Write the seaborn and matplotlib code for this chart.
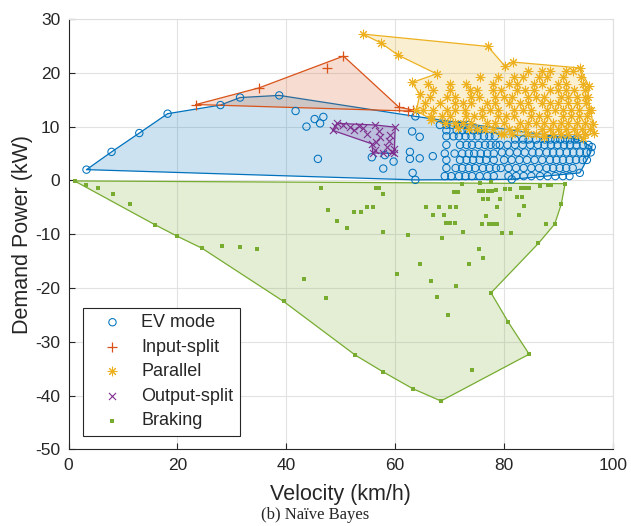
import matplotlib
matplotlib.use("Agg")
import matplotlib.pyplot as plt
import seaborn as sns
import numpy as np

# ---------------- data ----------------
# EV mode
ev_hull_x = [3.3, 7.9, 13.0, 18.2, 27.9, 31.5, 38.7, 63.7, 93.6, 96.1, 95.9, 95.2, 93.9, 81.4, 63.7]
ev_hull_y = [2.0, 5.3, 8.8, 12.4, 14.0, 15.4, 15.8, 11.9, 7.6, 6.2, 5.2, 3.8, 1.4, 0.2, 0.1]
ev_other_x = [41.7, 43.7, 45.2, 46.2, 46.8, 45.8, 63.1, 64.5, 62.7, 62.7, 64.5, 66.9, 63.2, 57.8, 55.7, 58.1, 59.7]
ev_other_y = [12.9, 10.0, 11.4, 10.6, 11.8, 4.0, 9.1, 8.1, 5.3, 4.0, 4.1, 4.5, 1.4, 2.2, 4.3, 4.7, 3.5]
ev_row_y = [10.3, 9.3, 8.2, 6.6, 5.0, 3.8, 2.3, 0.8,
            7.6, 6.6, 5.2, 3.8, 2.3, 0.8]
ev_row_x = [
    [68.2, 69.4, 70.5, 71.5, 72.5, 73.5],
    [69.4, 71.3, 72.3, 73.3, 74.3, 75.3],
    [69.4, 70.7, 71.7, 72.9, 74.0, 75.1, 76.3, 77.3, 78.3],
    [69.4, 71.9, 73.1, 74.1, 75.3, 76.5, 77.5, 78.5],
    [69.1, 70.9, 72.3, 73.5, 74.5, 75.7, 76.9, 78.1],
    [69.4, 71.9, 73.1, 74.3, 75.5, 76.7, 78.1],
    [69.4, 71.1, 72.3, 73.5, 74.7, 76.1, 77.3, 78.5],
    [69.1, 70.3, 71.7, 72.9, 74.1, 75.5, 76.9, 78.1],
    [82.0, 83.5, 84.5, 85.9, 87.5, 88.5, 89.4, 90.3, 91.2, 92.1, 93.0],
    [79.2, 80.6, 82.0, 83.4, 84.8, 86.2, 87.4, 88.6, 89.8, 91.0, 92.1, 93.3, 94.5, 95.5],
    [79.6, 81.0, 82.4, 83.8, 85.2, 86.4, 87.8, 89.0, 90.2, 91.5, 92.7, 93.9, 95.1],
    [80.0, 81.4, 82.8, 84.2, 85.6, 87.0, 88.4, 89.6, 90.8, 92.0, 93.2, 94.4],
    [79.4, 80.8, 82.2, 83.6, 85.0, 86.4, 87.8, 89.0, 90.2, 91.4, 92.6],
    [80.8, 82.2, 83.6, 85.0, 86.6, 88.0, 89.4, 90.8, 92.0],
]

# Input-split
in_hull_x = [23.4, 35.0, 50.5, 60.7, 63.2, 62.3]
in_hull_y = [14.1, 17.2, 23.1, 13.6, 13.1, 12.9]
in_other_x = [47.4]
in_other_y = [20.8]

# Parallel
par_hull_x = [54.0, 77.0, 80.1, 81.6, 93.9, 95.6, 95.4, 95.9, 96.3, 96.5, 94.5, 87.4, 79.4, 71.5,
              66.6, 63.9, 64.5, 63.1, 67.6, 60.5, 57.3]
par_hull_y = [27.2, 24.9, 21.3, 22.0, 20.9, 17.5, 15.5, 13.0, 10.5, 8.9, 7.8, 8.0, 8.6, 9.8,
              11.3, 13.0, 16.0, 18.2, 19.8, 23.3, 25.6]
par_row_y = [20.3, 19.2, 18.0, 16.8, 15.5, 14.3, 13.1, 11.9, 10.7, 9.5, 8.7]
par_row_x = [
    [84.4, 86.9, 88.4, 91.4, 92.6],
    [75.6, 78.9, 81.9, 83.4, 86.4, 87.9, 90.9, 94.1],
    [66.0, 70.0, 73.0, 77.9, 80.9, 82.4, 85.4, 86.9, 89.9, 91.4, 94.4],
    [67.0, 70.0, 73.8, 75.0, 77.9, 79.4, 82.4, 83.9, 85.4, 88.4, 89.9, 91.4, 92.9, 94.8],
    [66.4, 69.5, 71.0, 74.0, 75.4, 78.4, 79.9, 81.4, 84.4, 85.9, 87.4, 90.4, 91.8, 93.3, 94.8],
    [65.4, 68.2, 71.0, 72.5, 74.0, 76.9, 78.4, 80.9, 82.9, 84.4, 86.9, 88.4, 89.9, 91.8, 93.3, 95.1],
    [65.1, 67.0, 69.5, 71.0, 72.8, 75.9, 77.4, 78.9, 81.9, 83.4, 84.9, 87.9, 89.4, 90.9, 92.3, 93.8, 95.6],
    [66.5, 68.5, 70.0, 73.0, 74.5, 75.9, 78.9, 80.4, 81.9, 84.9, 86.4, 87.9, 90.9, 92.3, 93.8, 95.3],
    [69.1, 71.0, 72.5, 74.0, 76.9, 78.4, 79.9, 82.9, 84.4, 85.9, 87.4, 88.9, 90.4, 91.8, 93.3, 94.8],
    [73.5, 75.0, 76.4, 77.9, 80.9, 82.4, 83.9, 86.9, 88.4, 89.9, 91.4, 92.8, 94.3, 95.8],
    [80.0, 81.4, 84.4, 85.9, 87.4, 88.9, 90.4, 91.8, 93.3, 94.8],
]

# Output-split
out_hull_x = [48.5, 49.3, 56.3, 60.0, 59.8, 55.9, 55.7]
out_hull_y = [9.3, 10.6, 10.3, 9.9, 5.0, 5.1, 6.8]
out_other_x = [49.0, 50.5, 51.7, 53.3, 54.8, 57.2, 56.3, 58.4, 59.4, 57.8, 59.7, 52.5, 54.0, 57.0, 59.0, 56.5, 58.8]
out_other_y = [10.1, 10.3, 9.9, 10.1, 8.7, 8.1, 5.6, 6.2, 5.3, 5.0, 5.9, 9.4, 9.7, 9.2, 8.5, 7.2, 7.4]

# Braking
br_hull_x = [1.1, 15.8, 20.0, 24.5, 39.5, 52.7, 57.8, 63.2, 68.4, 84.6, 80.8, 77.6, 86.3, 89.3, 90.5, 91.2]
br_hull_y = [-0.1, -8.2, -10.4, -12.6, -22.5, -32.5, -35.6, -38.7, -41.0, -32.3, -26.4, -20.9, -11.7, -8.1, -4.4, -0.6]
br_other_x = [3.3, 5.4, 8.1, 11.3, 28.2, 31.5, 34.7, 43.3, 47.2, 46.4, 47.7, 49.3, 51.1, 52.4, 53.7, 54.8,
              55.9, 56.4, 57.1, 57.8, 57.8, 62.3, 65.6, 68.0, 70.1, 71.2, 66.9, 68.9, 69.4, 70.1, 70.9,
              68.6, 72.5, 70.8, 71.5, 72.2, 75.3, 76.1, 77.0, 77.8, 78.5, 75.6, 77.6, 76.2, 77.1, 79.3,
              78.7, 76.7, 75.9, 77.3, 78.0, 78.7, 79.7, 81.3, 80.2, 81.1, 82.3, 83.3, 83.1, 83.9, 84.6,
              83.7, 82.7, 86.5, 88.0, 88.6, 87.7, 75.4, 76.2, 73.5, 64.6, 60.4, 66.5, 71.2, 67.6, 69.7, 74.1]
br_other_y = [-0.9, -1.4, -2.6, -4.4, -12.2, -12.4, -12.8, -18.3, -21.8, -1.5, -5.5, -7.6, -8.8, -5.8, -5.9, -4.9,
              -4.9, -1.4, -1.4, -2.6, -9.6, -10.1, -5.0, -5.0, -5.0, -5.0, -6.4, -6.4, -7.9, -7.9, -7.9,
              -10.7, -9.6, -2.2, -2.2, -0.6, -2.0, -2.0, -1.9, -1.9, -1.7, -0.4, -0.3, -3.5, -3.5, -3.4,
              -5.0, -6.6, -8.1, -8.1, -8.1, -8.1, -9.8, -9.8, -1.6, -1.6, -3.1, -3.1, -1.4, -1.4, -1.4,
              -4.7, -6.5, -1.1, -0.9, -0.9, -8.1, -12.8, -14.4, -15.6, -15.6, -17.4, -18.7, -19.7, -21.7, -25.1, -35.3]

labels = ["EV mode", "Input-split", "Parallel", "Output-split", "Braking"]
x_ticks = [0, 20, 40, 60, 80, 100]
y_ticks = [-50, -40, -30, -20, -10, 0, 10, 20, 30]


def rows_to_xy(row_y, row_x):
    xs, ys = [], []
    for yv, xl in zip(row_y, row_x):
        xs.extend(xl)
        ys.extend([yv] * len(xl))
    return xs, ys


ev_rx, ev_ry = rows_to_xy(ev_row_y, ev_row_x)
par_rx, par_ry = rows_to_xy(par_row_y, par_row_x)

ev_x = ev_hull_x + ev_other_x + ev_rx
ev_y = ev_hull_y + ev_other_y + ev_ry
in_x = in_hull_x + in_other_x
in_y = in_hull_y + in_other_y
par_x = par_hull_x + par_rx
par_y = par_hull_y + par_ry
out_x = out_hull_x + out_other_x
out_y = out_hull_y + out_other_y
br_x = br_hull_x + br_other_x
br_y = br_hull_y + br_other_y

# ---------------- styling ----------------
sns.set_theme(style="white")
plt.rcParams['font.family'] = ['Liberation Sans', 'DejaVu Sans']
plt.rcParams['axes.unicode_minus'] = False

c_ev = "#0072BD"
c_in = "#D95319"
c_par = "#EDB120"
c_out = "#7E2F8E"
c_br = "#77AC30"

fig = plt.figure(figsize=(6.31, 5.26), dpi=100)
ax = fig.add_axes([0.1086, 0.1456, 0.8629, 0.8183])


def hull(hx, hy, c, z):
    ax.fill(hx, hy, facecolor=c, alpha=0.2, edgecolor="none", zorder=z)
    ax.plot(list(hx) + [hx[0]], list(hy) + [hy[0]], color=c, lw=0.9, zorder=z + 0.1)


hull(ev_hull_x, ev_hull_y, c_ev, 1)
hull(in_hull_x, in_hull_y, c_in, 1.2)
hull(par_hull_x, par_hull_y, c_par, 1.4)
hull(out_hull_x, out_hull_y, c_out, 1.6)
hull(br_hull_x, br_hull_y, c_br, 1.8)

sns.scatterplot(x=ev_x, y=ev_y, ax=ax, marker="o", s=28, facecolor="none",
                edgecolor=c_ev, linewidth=0.75, label=labels[0], zorder=3)
sns.scatterplot(x=in_x, y=in_y, ax=ax, marker="+", s=50, color=c_in,
                linewidth=0.9, label=labels[1], zorder=3)
sns.scatterplot(x=par_x, y=par_y, ax=ax, marker=(8, 2, 0), s=40, color=c_par,
                linewidth=0.75, label=labels[2], zorder=3)
sns.scatterplot(x=out_x, y=out_y, ax=ax, marker="x", s=26, color=c_out,
                linewidth=0.8, label=labels[3], zorder=3)
sns.scatterplot(x=br_x, y=br_y, ax=ax, marker="s", s=5, color=c_br,
                edgecolor=c_br, linewidth=0, label=labels[4], zorder=3)

ax.set_xlim(0, 100)
ax.set_ylim(-50, 30)
ax.set_xticks(x_ticks)
ax.set_yticks(y_ticks)
ax.grid(True, color="#e2e2e2", lw=0.8)
ax.set_axisbelow(True)

for s in ["left", "bottom"]:
    ax.spines[s].set_color("#262626")
    ax.spines[s].set_linewidth(0.8)
for s in ["top", "right"]:
    ax.spines[s].set_color("#dedede")
    ax.spines[s].set_linewidth(0.8)

ax.tick_params(axis="both", which="both", direction="in", length=4, width=0.8,
               colors="#262626", labelsize=12.5, pad=6, top=False, right=False,
               left=True, bottom=True)

ax.set_xlabel("Velocity (km/h)", fontsize=15.5, color="#262626")
ax.set_ylabel("Demand Power (kW)", fontsize=15.5, color="#262626")
ax.xaxis.set_label_coords(0.5, -0.08)
ax.yaxis.set_label_coords(-0.066, 0.5)

leg = ax.legend(loc="lower left", bbox_to_anchor=(0.026, 0.032), borderaxespad=0,
                fontsize=13, frameon=True, fancybox=False, framealpha=1,
                edgecolor="#262626", handlelength=2.6, handletextpad=0.3,
                borderpad=0.35, labelspacing=0.42, scatterpoints=1)
leg.get_frame().set_linewidth(0.8)
for t in leg.get_texts():
    t.set_color("#262626")

fig.text(0.5, 0.021, "(b) Naïve Bayes", ha="center", va="center",
         fontsize=12, family=["Liberation Serif", "DejaVu Serif"])

fig.savefig("out.png", dpi=100)
